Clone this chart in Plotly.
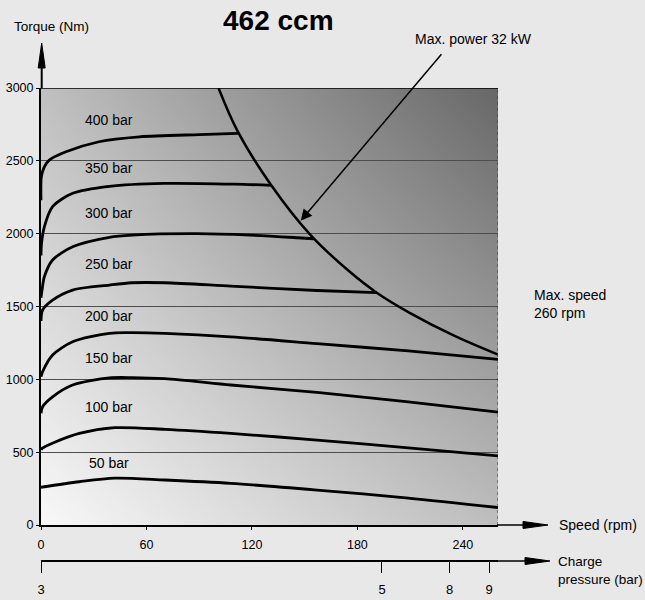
import base64, zlib, struct
import plotly.graph_objects as go

# ---------------- data ----------------
speed_ticks = [0, 60, 120, 180, 240]
torque_ticks = [0, 500, 1000, 1500, 2000, 2500, 3000]
charge_pressure_labels = ["3", "5", "8", "9"]
charge_pressure_speed = [0, 194, 232.5, 255]   # speed position of each charge-pressure tick

pressures = ["400 bar", "350 bar", "300 bar", "250 bar", "200 bar", "150 bar", "100 bar", "50 bar"]

speed_400 = [0, 0.2, 1.9, 4.7, 14.2, 33, 56, 90, 112]
torque_400 = [2230, 2390, 2459, 2505, 2562, 2631, 2665, 2680, 2688]

speed_350 = [0, 0.3, 1.9, 6.6, 18, 38.9, 70, 110, 131]
torque_350 = [1850, 1933, 2047, 2185, 2277, 2325, 2345, 2340, 2332]

speed_300 = [0, 0.6, 1.9, 6.6, 18, 38.9, 52, 89, 119, 146, 155]
torque_300 = [1560, 1613, 1704, 1819, 1910, 1975, 1990, 2000, 1990, 1972, 1965]

speed_250 = [0, 0.9, 6.6, 18, 38.9, 51.7, 70.5, 108, 157, 191]
torque_250 = [1400, 1476, 1544, 1613, 1647, 1663, 1663, 1640, 1610, 1595]

speed_200 = [0, 0.9, 6.6, 18, 38.9, 51.7, 70.5, 108, 157, 209, 260]
torque_200 = [1018, 1052, 1167, 1258, 1316, 1320, 1315, 1292, 1245, 1195, 1137]

speed_150 = [0, 0.9, 6.6, 18, 38.9, 51.7, 70.5, 108, 157, 209, 260]
torque_150 = [767, 812, 880, 961, 1010, 1012, 1005, 961, 910, 845, 775]

speed_100 = [0, 0.6, 8.5, 21.8, 42, 70.5, 108, 157, 209, 260]
torque_100 = [515, 526, 572, 629, 668, 657, 629, 583, 530, 475]

speed_50 = [0, 21.8, 42, 70.5, 108, 157, 209, 260]
torque_50 = [259, 297, 322, 309, 286, 240, 185, 120]

# max power 32 kW limit curve
speed_power = [101, 112, 131, 153, 175, 191, 210, 235, 260]
torque_power = [3000, 2700, 2332, 1995, 1745, 1595, 1455, 1300, 1170]

# label positions (speed, torque) for the pressure labels
label_speed = [38.7] * 8
label_torque = [2780, 2450, 2141, 1791, 1434, 1146, 810, 425]

curves = [
    (speed_400, torque_400), (speed_350, torque_350), (speed_300, torque_300),
    (speed_250, torque_250), (speed_200, torque_200), (speed_150, torque_150),
    (speed_100, torque_100), (speed_50, torque_50),
]

# ---------------- layout geometry ----------------
W, H = 645, 600
ML, MR, MT, MB = 41, 147, 88, 20
PW, PH = W - ML - MR, H - MT - MB


def px(xp):
    return (xp - ML) / PW


def py(yp):
    return (H - MB - yp) / PH


Y_DOM0 = py(525)
X2_POS = py(561)

# ---------------- gradient background image ----------------
def gray(u, w):
    v = 248 - 56 * w - 58 * u - 30 * u * w
    return max(0, min(255, int(round(v))))


def make_png(w, h):
    rows = []
    for j in range(h):
        wv = 1 - j / (h - 1)
        rows.append(b"\x00" + bytes(gray(i / (w - 1), wv) for i in range(w)))
    raw = b"".join(rows)

    def chunk(t, d):
        return struct.pack(">I", len(d)) + t + d + struct.pack(">I", zlib.crc32(t + d) & 0xFFFFFFFF)

    return (b"\x89PNG\r\n\x1a\n"
            + chunk(b"IHDR", struct.pack(">IIBBBBB", w, h, 8, 0, 0, 0, 0))
            + chunk(b"IDAT", zlib.compress(raw, 9))
            + chunk(b"IEND", b""))


png_src = "data:image/png;base64," + base64.b64encode(make_png(160, 150)).decode()

FONT = "Liberation Sans, Arial, sans-serif"
LBL = 14

fig = go.Figure()

for (sx, ty) in curves:
    fig.add_trace(go.Scatter(x=sx, y=ty, mode="lines",
                             line=dict(color="black", width=2.8, shape="spline", smoothing=0.8),
                             hoverinfo="skip", showlegend=False))

fig.add_trace(go.Scatter(x=speed_power, y=torque_power, mode="lines",
                         line=dict(color="black", width=2.5, shape="spline", smoothing=1),
                         hoverinfo="skip", showlegend=False))

# dummy trace so the charge-pressure axis is drawn
fig.add_trace(go.Scatter(x=[None], y=[None], xaxis="x2", yaxis="y", showlegend=False, hoverinfo="skip"))

annotations = []
for name, lx, ly in zip(pressures, label_speed, label_torque):
    annotations.append(dict(x=lx, y=ly, xref="x", yref="y", text=name, showarrow=False,
                            font=dict(family=FONT, size=LBL, color="black"),
                            xanchor="center", yanchor="middle"))

annotations += [
    dict(x=px(278), y=py(20), xref="paper", yref="paper", text="<b>462 ccm</b>", showarrow=False,
         font=dict(family=FONT, size=28, color="black"), xanchor="center", yanchor="middle"),
    dict(x=px(12), y=py(26), xref="paper", yref="paper", text="Torque (Nm)", showarrow=False,
         font=dict(family=FONT, size=13.5, color="black"), xanchor="left", yanchor="middle"),
    dict(x=px(473), y=py(39), xref="paper", yref="paper", text="Max. power 32 kW", showarrow=False,
         font=dict(family=FONT, size=LBL, color="black"), xanchor="center", yanchor="middle"),
    dict(x=px(532), y=py(304), xref="paper", yref="paper", text="Max. speed<br>260 rpm", showarrow=False,
         font=dict(family=FONT, size=LBL, color="black"), xanchor="left", yanchor="middle", align="left"),
    dict(x=px(557), y=py(525), xref="paper", yref="paper", text="Speed (rpm)", showarrow=False,
         font=dict(family=FONT, size=LBL, color="black"), xanchor="left", yanchor="middle"),
    dict(x=px(556), y=py(570), xref="paper", yref="paper", text="Charge<br>pressure (bar)", showarrow=False,
         font=dict(family=FONT, size=13.5, color="black"), xanchor="left", yanchor="middle", align="left"),
    # arrow pointing to the power curve
    dict(x=px(300.7), y=py(220.7), xref="paper", yref="paper", text="", showarrow=True,
         ax=142, ay=-168, axref="pixel", ayref="pixel",
         arrowhead=2, arrowsize=1.5, arrowwidth=1.5, arrowcolor="black"),
]

shapes = [
    # top border at 3000
    dict(type="line", xref="x", yref="y", x0=0, x1=260, y0=3000, y1=3000,
         line=dict(color="black", width=1.5)),
    # right border (max speed)
    dict(type="line", xref="x", yref="y", x0=260, x1=260, y0=0, y1=3000,
         line=dict(color="#333333", width=1, dash="dot")),
    # y axis extension + arrow
    dict(type="line", xref="paper", yref="paper", x0=px(41.7), x1=px(41.7), y0=py(88), y1=py(64),
         line=dict(color="black", width=2)),
    dict(type="path", xref="paper", yref="paper",
         path=f"M {px(38.2)} {py(68)} L {px(41.7)} {py(43)} L {px(45.2)} {py(68)} Z",
         fillcolor="black", line=dict(color="black", width=1)),
    # speed axis extension + arrow
    dict(type="line", xref="paper", yref="paper", x0=px(497), x1=px(526), y0=py(525), y1=py(525),
         line=dict(color="black", width=1.5)),
    dict(type="path", xref="paper", yref="paper",
         path=f"M {px(523)} {py(521.5)} L {px(548)} {py(525)} L {px(523)} {py(528.5)} Z",
         fillcolor="black", line=dict(color="black", width=1)),
    # charge pressure axis extension + arrow
    dict(type="line", xref="paper", yref="paper", x0=px(497), x1=px(527), y0=py(561), y1=py(561),
         line=dict(color="black", width=1.5)),
    dict(type="path", xref="paper", yref="paper",
         path=f"M {px(525)} {py(557.5)} L {px(550)} {py(561)} L {px(525)} {py(564.5)} Z",
         fillcolor="black", line=dict(color="black", width=1)),
]

fig.update_layout(
    width=W, height=H,
    autosize=False,
    margin=dict(l=ML, r=MR, t=MT, b=MB, pad=0, autoexpand=False),
    paper_bgcolor="#e8e8e8",
    plot_bgcolor="rgba(0,0,0,0)",
    showlegend=False,
    font=dict(family=FONT, size=12, color="black"),
    images=[dict(source=png_src, xref="x", yref="y", x=0, y=3000, sizex=260, sizey=3000,
                 sizing="stretch", layer="below", xanchor="left", yanchor="top")],
    xaxis=dict(range=[0, 260], tickvals=speed_ticks, ticktext=[str(v) for v in speed_ticks],
               showgrid=False, zeroline=False, showline=True, linecolor="black", linewidth=1.5,
               ticks="outside", ticklen=3, tickcolor="black", anchor="y", automargin=False,
               tickfont=dict(family=FONT, size=12.5, color="black"), ticklabelstandoff=4),
    xaxis2=dict(range=[0, 260], overlaying="x", anchor="free", position=X2_POS, side="bottom",
                tickvals=charge_pressure_speed, ticktext=charge_pressure_labels, automargin=False,
                showgrid=False, zeroline=False, showline=True, linecolor="black", linewidth=1.5,
                ticks="outside", ticklen=11, tickcolor="black", tickwidth=1.2,
                tickfont=dict(family=FONT, size=13, color="black"), ticklabelstandoff=6),
    yaxis=dict(range=[0, 3000], domain=[Y_DOM0, 1], tickvals=torque_ticks, automargin=False,
               showgrid=True, gridcolor="#4d4d4d", gridwidth=1, zeroline=False,
               showline=True, linecolor="black", linewidth=2,
               ticks="outside", ticklen=3, tickcolor="black",
               tickfont=dict(family=FONT, size=12.5, color="black")),
    annotations=annotations,
    shapes=shapes,
)

post = ("document.documentElement.style.margin='0';document.body.style.margin='0';"
        "document.body.style.padding='0';document.documentElement.style.overflow='hidden';"
        "document.body.style.overflow='hidden';")

fig.write_html("out.html", config={"responsive": False, "displayModeBar": False}, post_script=post)
